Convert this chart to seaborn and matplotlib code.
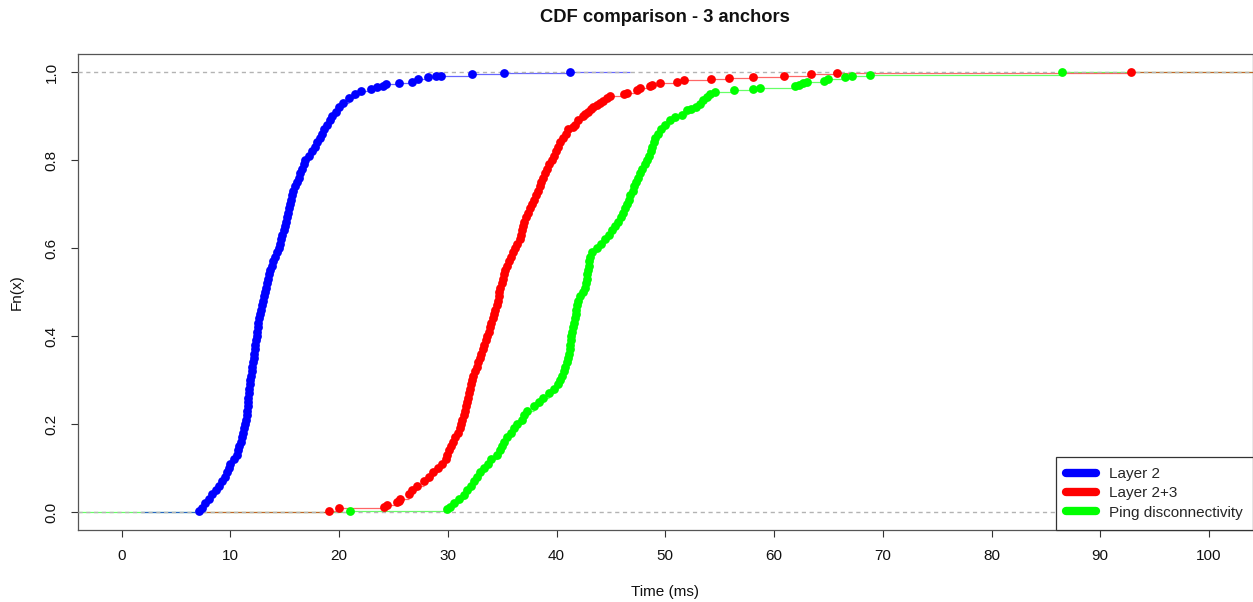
import matplotlib
matplotlib.use("Agg")
import matplotlib.pyplot as plt
from matplotlib.lines import Line2D
import seaborn as sns

# ---- data: jump times (ms) of each empirical CDF and the CDF value after the jump ----
l2_ms = [7.1, 7.4, 7.7, 8.0, 8.3, 8.7, 9.0, 9.2, 9.5, 9.7,
         9.85, 10.0, 10.3, 10.6, 10.75, 10.85, 10.95, 11.05, 11.15, 11.25,
         11.35, 11.45, 11.5, 11.57, 11.6, 11.63, 11.66, 11.69, 11.73, 11.79,
         11.85, 11.92, 11.97, 12.03, 12.09, 12.15, 12.21, 12.27, 12.32, 12.37,
         12.42, 12.47, 12.52, 12.57, 12.63, 12.72, 12.82, 12.9, 12.99, 13.08,
         13.16, 13.25, 13.35, 13.45, 13.55, 13.67, 13.8, 13.95, 14.12, 14.32,
         14.44, 14.56, 14.67, 14.79, 14.9, 15.0, 15.1, 15.2, 15.28, 15.38,
         15.47, 15.56, 15.65, 15.78, 15.95, 16.12, 16.28, 16.42, 16.58, 16.74,
         16.9, 17.2, 17.5, 17.8, 18.0, 18.25, 18.45, 18.65, 18.88, 19.13,
         19.4, 19.7, 20.0, 20.4, 20.9, 21.5,
         22.0, 22.9, 23.5, 24.0, 24.3, 25.5, 26.7, 27.3, 28.2, 28.9,
         29.4, 32.2, 35.2, 41.2]
l2_fn = [0.003, 0.01, 0.02, 0.03, 0.04, 0.05, 0.06, 0.07, 0.08, 0.09,
         0.10, 0.11, 0.12, 0.13, 0.14, 0.15, 0.16, 0.17, 0.18, 0.19,
         0.20, 0.21, 0.22, 0.23, 0.24, 0.25, 0.26, 0.27, 0.28, 0.29,
         0.30, 0.31, 0.32, 0.33, 0.34, 0.35, 0.36, 0.37, 0.38, 0.39,
         0.40, 0.41, 0.42, 0.43, 0.44, 0.45, 0.46, 0.47, 0.48, 0.49,
         0.50, 0.51, 0.52, 0.53, 0.54, 0.55, 0.56, 0.57, 0.58, 0.59,
         0.60, 0.61, 0.62, 0.63, 0.64, 0.65, 0.66, 0.67, 0.68, 0.69,
         0.70, 0.71, 0.72, 0.73, 0.74, 0.75, 0.76, 0.77, 0.78, 0.79,
         0.80, 0.81, 0.82, 0.83, 0.84, 0.85, 0.86, 0.87, 0.88, 0.89,
         0.90, 0.91, 0.92, 0.93, 0.94, 0.95,
         0.957, 0.961, 0.966, 0.969, 0.973, 0.975, 0.978, 0.985, 0.988, 0.99,
         0.992, 0.995, 0.997, 1.0]

l23_ms = [19.1, 20.0, 24.1, 24.4, 25.3, 25.5, 25.6,
          26.4, 26.7, 27.2, 27.8, 28.25, 28.65, 29.1, 29.5, 29.8, 29.95,
          30.1, 30.3, 30.5, 30.7, 30.95, 31.1, 31.2, 31.35, 31.45, 31.55,
          31.65, 31.78, 31.88, 31.95, 32.05, 32.12, 32.2, 32.35, 32.5, 32.68,
          32.82, 32.95, 33.1, 33.22, 33.35, 33.5, 33.62, 33.78, 33.9, 34.02,
          34.15, 34.27, 34.38, 34.5, 34.6, 34.7, 34.75, 34.85, 34.98, 35.1,
          35.2, 35.3, 35.45, 35.62, 35.8, 36.0, 36.2, 36.4, 36.6, 36.7,
          36.8, 36.92, 37.05, 37.2, 37.38, 37.55, 37.75, 37.92, 38.1, 38.3,
          38.45, 38.6, 38.8, 38.98, 39.15, 39.35, 39.55, 39.75, 39.92, 40.1,
          40.35, 40.6, 40.9, 41.1,
          41.5, 41.7, 42.0, 42.4, 42.65, 42.9, 43.15, 43.4, 43.7, 44.0,
          44.3, 44.6, 44.9, 46.2, 46.5, 47.4, 47.7, 48.6, 48.8, 49.5,
          51.1, 51.7, 54.2, 55.9, 58.1, 60.9, 63.4, 65.8, 92.8]
l23_fn = [0.003, 0.008, 0.012, 0.016, 0.022, 0.026, 0.03,
          0.04, 0.05, 0.06, 0.07, 0.08, 0.09, 0.10, 0.11, 0.12, 0.13,
          0.14, 0.15, 0.16, 0.17, 0.18, 0.19, 0.20, 0.21, 0.22, 0.23,
          0.24, 0.25, 0.26, 0.27, 0.28, 0.29, 0.30, 0.31, 0.32, 0.33,
          0.34, 0.35, 0.36, 0.37, 0.38, 0.39, 0.40, 0.41, 0.42, 0.43,
          0.44, 0.45, 0.46, 0.47, 0.48, 0.49, 0.50, 0.51, 0.52, 0.53,
          0.54, 0.55, 0.56, 0.57, 0.58, 0.59, 0.60, 0.61, 0.62, 0.63,
          0.64, 0.65, 0.66, 0.67, 0.68, 0.69, 0.70, 0.71, 0.72, 0.73,
          0.74, 0.75, 0.76, 0.77, 0.78, 0.79, 0.80, 0.81, 0.82, 0.83,
          0.84, 0.85, 0.86, 0.87,
          0.875, 0.88, 0.89, 0.90, 0.905, 0.91, 0.915, 0.92, 0.925, 0.93,
          0.935, 0.94, 0.945, 0.951, 0.953, 0.959, 0.963, 0.968, 0.97, 0.974,
          0.977, 0.982, 0.984, 0.987, 0.989, 0.992, 0.995, 0.997, 1.0]

ping_ms = [21.0, 29.9, 30.2, 30.55, 31.0, 31.45,
           31.8, 32.1, 32.4, 32.7, 33.0, 33.3, 33.7, 34.0, 34.5, 34.8,
           35.0, 35.2, 35.45, 35.8, 36.1, 36.4, 36.8, 37.0, 37.3, 37.9,
           38.4, 38.8, 39.3, 39.8, 40.1, 40.3, 40.5, 40.65, 40.8, 40.95,
           41.05, 41.15, 41.2, 41.25, 41.3, 41.35, 41.4, 41.5, 41.6, 41.7,
           41.75, 41.8, 41.9, 42.0, 42.2, 42.45, 42.6, 42.7, 42.8, 42.85,
           42.9, 42.95, 43.0, 43.1, 43.3, 43.7, 44.1, 44.5, 44.8, 45.1,
           45.4, 45.7, 45.9, 46.1, 46.3, 46.5, 46.65, 46.8, 47.0, 47.15,
           47.35, 47.5, 47.7, 47.9, 48.1, 48.3, 48.5, 48.65, 48.8, 48.95,
           49.1, 49.3, 49.6, 50.0, 50.4,
           50.9, 51.5, 52.0, 52.4, 52.8, 53.2, 53.5, 53.8, 54.1, 54.6,
           56.3, 58.1, 58.7, 61.9, 62.3, 62.7, 63.0, 64.6, 65.0, 66.5,
           67.2, 68.8, 86.5]
ping_fn = [0.003, 0.006, 0.012, 0.02, 0.03, 0.038,
           0.05, 0.06, 0.07, 0.08, 0.09, 0.10, 0.11, 0.12, 0.13, 0.14,
           0.15, 0.16, 0.17, 0.18, 0.19, 0.20, 0.21, 0.22, 0.23, 0.24,
           0.25, 0.26, 0.27, 0.28, 0.29, 0.30, 0.31, 0.32, 0.33, 0.34,
           0.35, 0.36, 0.37, 0.38, 0.39, 0.40, 0.41, 0.42, 0.43, 0.44,
           0.45, 0.46, 0.47, 0.48, 0.49, 0.50, 0.51, 0.52, 0.53, 0.54,
           0.55, 0.56, 0.57, 0.58, 0.59, 0.60, 0.61, 0.62, 0.63, 0.64,
           0.65, 0.66, 0.67, 0.68, 0.69, 0.70, 0.71, 0.72, 0.73, 0.74,
           0.75, 0.76, 0.77, 0.78, 0.79, 0.80, 0.81, 0.82, 0.83, 0.84,
           0.85, 0.86, 0.87, 0.88, 0.89,
           0.897, 0.902, 0.914, 0.917, 0.921, 0.928, 0.936, 0.944, 0.951, 0.955,
           0.958, 0.961, 0.963, 0.968, 0.971, 0.974, 0.978, 0.98, 0.984, 0.988,
           0.99, 0.993, 1.0]

series_names = ["Layer 2", "Layer 2+3", "Ping disconnectivity"]
series_colors = ["#0000FF", "#FF0000", "#00FF00"]

# horizontal reach of each step function before its first and after its last jump
l2_span = (1.8, 46.8)
l23_span = (7.1, 104.0)
ping_span = (-4.0, 104.0)

x_ticks = [0, 10, 20, 30, 40, 50, 60, 70, 80, 90, 100]
y_ticks = [0.0, 0.2, 0.4, 0.6, 0.8, 1.0]
y_tick_labels = ["0.0", "0.2", "0.4", "0.6", "0.8", "1.0"]

# ---- style ----
sns.set_theme(style="ticks")
plt.rcParams["font.family"] = ["Liberation Sans", "DejaVu Sans"]

W, H = 1253, 602
FS = 11.0          # base text size (pt)
fig = plt.figure(figsize=(W / 100, H / 100), dpi=100)
fig.patch.set_facecolor("white")
left, right, top, bottom = 78.0, 1252.5, 54.4, 529.6
ax = fig.add_axes([left / W, 1 - bottom / H, (right - left) / W, (bottom - top) / H])
ax.set_facecolor("white")


def draw_ecdf(ms, fn, span, color, z):
    """Horizontal steps of an ECDF (no verticals) plus a dot at every jump."""
    starts = [span[0]] + list(ms)
    ends = list(ms) + [span[1]]
    levels = [0.0] + list(fn)
    ax.hlines(levels, starts, ends, colors=color, linewidth=0.9, alpha=0.6, zorder=z)
    sns.scatterplot(x=ms, y=fn, ax=ax, color=color, s=40, linewidth=0,
                    legend=False, zorder=z + 10)


draw_ecdf(ping_ms, ping_fn, ping_span, series_colors[2], 2)
draw_ecdf(l2_ms, l2_fn, l2_span, series_colors[0], 2.1)
draw_ecdf(l23_ms, l23_fn, l23_span, series_colors[1], 2.2)

# reference lines at 0 and 1
for level in (0.0, 1.0):
    ax.axhline(level, color="#B3B3B3", linewidth=1.0, linestyle=(0, (3, 2.6)), zorder=5)

ax.set_xlim(-4, 104)
ax.set_ylim(-0.04, 1.04)
ax.set_xticks(x_ticks)
ax.set_xticklabels([str(t) for t in x_ticks])
ax.set_yticks(y_ticks)
ax.set_yticklabels(y_tick_labels, rotation=90, va="center")
ax.tick_params(axis="both", direction="out", length=5.2, width=0.8, color="#333333",
               labelsize=FS, labelcolor="#111111")
ax.tick_params(axis="x", pad=8.5)
ax.tick_params(axis="y", pad=8.7)
for sp in ax.spines.values():
    sp.set_visible(True)
    sp.set_color("#555555")
    sp.set_linewidth(0.9)
ax.set_xlabel("")
ax.set_ylabel("")

fig.text(665 / W, 1 - 18 / H, "CDF comparison - 3 anchors", ha="center", va="center",
         fontsize=13.2, fontweight="bold", color="#111111")
fig.text(665 / W, 1 - 592 / H, "Time (ms)", ha="center", va="center",
         fontsize=FS, color="#111111")
fig.text(17 / W, 1 - 292 / H, "Fn(x)", ha="center", va="center", rotation=90,
         fontsize=FS, color="#111111")

handles = [Line2D([0], [0], color=c, linewidth=6.0, solid_capstyle="round") for c in series_colors]
leg = ax.legend(handles, series_names, loc="lower right", borderaxespad=0, frameon=True,
                fancybox=False, edgecolor="#333333", facecolor="white", framealpha=1,
                fontsize=FS, handlelength=2.0, handletextpad=0.8, borderpad=0.66,
                labelspacing=0.34)
leg.get_frame().set_linewidth(0.9)
leg.set_zorder(30)

fig.savefig("out.png", dpi=100, facecolor="white")
